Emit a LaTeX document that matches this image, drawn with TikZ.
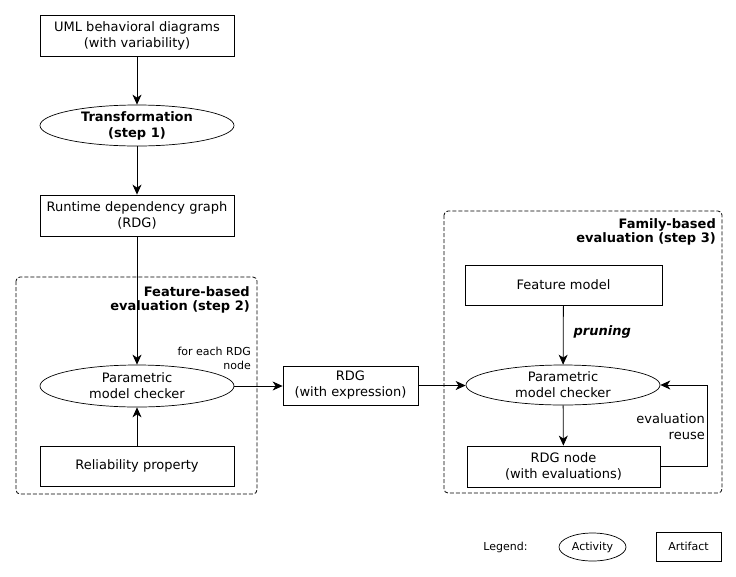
\documentclass[tikz,border=0pt]{standalone}
\usepackage{fontspec}
\setmainfont{DejaVu Sans}
\usetikzlibrary{shapes.geometric,arrows.meta}
\begin{document}
\begin{tikzpicture}[x=1pt,y=-1pt,
 every node/.style={font=\fontsize{13}{16}\selectfont, align=center},
 artifact/.style={draw, line width=0.8pt, minimum width=194pt, minimum height=41pt, inner sep=0pt},
 activity/.style={draw, ellipse, line width=0.7pt, minimum width=194pt, minimum height=41pt, inner sep=0pt},
 arr/.style={-{Stealth[length=10pt,width=9pt,inset=3pt]}, line width=0.8pt},
 group/.style={draw, dash pattern=on 4pt off 2pt, rounded corners=4pt, line width=0.8pt},
 lbl/.style={inner sep=0pt},
 ttl/.style={inner sep=0pt, anchor=east, align=right, font=\fontsize{13}{14.5}\selectfont\bfseries},
 small/.style={inner sep=0pt, font=\fontsize{11}{14}\selectfont},
]
\useasboundingbox (0,0) rectangle (736,576);
\fill[white] (0,0) rectangle (736,576);

% groups
\draw[group] (16,277) rectangle (257,494);
\draw[group] (444,211) rectangle (722,493);
\node[ttl] (t2) at (250,300) {Feature-based\\evaluation (step 2)};
\node[ttl] (t3) at (716,232) {Family-based\\evaluation (step 3)};

% nodes
\node[artifact] (uml) at (137,35.5) {UML behavioral diagrams\\(with variability)};
\node[activity] (trans) at (137,125.5) {\bfseries Transformation\\\bfseries (step 1)};
\node[artifact] (rdg) at (137,215.5) {Runtime dependency graph\\(RDG)};
\node[activity, minimum height=42pt] (pmc1) at (137,386) {Parametric\\model checker};
\node[artifact, minimum height=40pt] (rel) at (137,466) {Reliability property};
\node[artifact, minimum width=135pt, minimum height=39pt] (rdgx) at (350.5,385.5) {RDG\\(with expression)};
\node[artifact, minimum width=197pt, minimum height=40pt] (fm) at (563.5,285) {Feature model};
\node[activity, minimum height=40pt] (pmc2) at (563,385) {Parametric\\model checker};
\node[artifact, minimum width=193pt] (rdgn) at (563.5,466.5) {RDG node\\(with evaluations)};

% legend
\node[lbl, font=\fontsize{11}{13}\selectfont] (leg) at (505.5,547) {Legend:};
\node[activity, minimum width=67pt, minimum height=28pt, font=\fontsize{11}{13}\selectfont] (act) at (592.5,547) {Activity};
\node[artifact, minimum width=65pt, minimum height=29pt, font=\fontsize{11}{13}\selectfont] (art) at (688.5,546.5) {Artifact};

% labels
\node[small, anchor=east, align=right] (fe) at (251,358) {for each RDG\\node};
\node[lbl, anchor=east, align=right] (er) at (705,427) {evaluation\\reuse};

% connectors
\draw[arr] (uml) -- (trans);
\draw[arr] (trans) -- (rdg);
\draw[arr] (rdg) -- (pmc1);
\draw[arr] (rel) -- (pmc1);
\draw[arr] (pmc1.east) -- (pmc1.east -| rdgx.west);
\draw[arr] (rdgx.east) -- (rdgx.east -| pmc2.west);
\draw[arr] (fm) -- node[lbl, right=10pt, pos=0.45, font=\fontsize{13}{16}\selectfont\bfseries\itshape] {pruning} (pmc2);
\draw[arr] (pmc2) -- (rdgn);
\coordinate (loop) at (707,466.5);
\draw[arr] (rdgn.east) -- (loop) |- (pmc2.east);
\end{tikzpicture}
\end{document}
